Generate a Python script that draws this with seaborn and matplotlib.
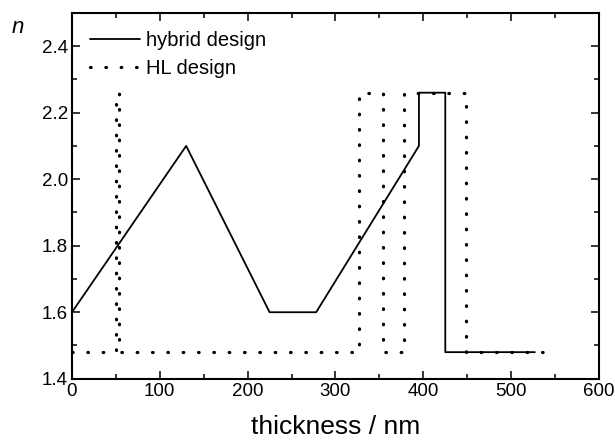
import pandas as pd
import seaborn as sns
import matplotlib.pyplot as plt
from matplotlib.ticker import MultipleLocator

# refractive index profiles, thickness in nm
hybrid_x = [0, 130, 225, 278, 395, 395, 425, 425, 527]
hybrid_n = [1.6, 2.1, 1.6, 1.6, 2.1, 2.26, 2.26, 1.48, 1.48]

hl_x = [0, 50, 50, 54, 54, 327, 327, 354, 354, 378, 378, 449, 449, 540]
hl_n = [1.48, 1.48, 2.26, 2.26, 1.48, 1.48, 2.26, 2.26, 1.48, 1.48, 2.26, 2.26, 1.48, 1.48]

sns.set_style("ticks")
plt.rcParams['font.family'] = ['Liberation Sans', 'DejaVu Sans']
plt.rcParams['text.color'] = 'black'
plt.rcParams['xtick.color'] = 'black'
plt.rcParams['ytick.color'] = 'black'
plt.rcParams['axes.labelcolor'] = 'black'

fig = plt.figure(figsize=(6.15, 4.43), dpi=100)
ax = fig.add_axes([0.117, 0.145, 0.857, 0.826])

df_h = pd.DataFrame({"x": hybrid_x, "n": hybrid_n})
df_l = pd.DataFrame({"x": hl_x, "n": hl_n})
sns.lineplot(data=df_h, x="x", y="n", sort=False, estimator=None, ax=ax,
             color="black", linewidth=1.3, label="hybrid design")
sns.lineplot(data=df_l, x="x", y="n", sort=False, estimator=None, ax=ax,
             color="black", linewidth=2.3, linestyle=(0, (0.2, 4.6)),
             dash_capstyle="round", label="HL design")

ax.set_xlim(0, 600)
ax.set_ylim(1.4, 2.5)
ax.xaxis.set_major_locator(MultipleLocator(100))
ax.xaxis.set_minor_locator(MultipleLocator(50))
ax.yaxis.set_minor_locator(MultipleLocator(0.1))
ax.set_yticks([1.4, 1.6, 1.8, 2.0, 2.2, 2.4])
ax.tick_params(which="both", direction="in", top=True, right=True,
               labeltop=False, labelright=False, width=1.1, labelsize=13.5, pad=3)
ax.tick_params(which="major", length=6)
ax.tick_params(which="minor", length=3.5)
for s in ax.spines.values():
    s.set_linewidth(1.5)
    s.set_color("black")

ax.set_xlabel("thickness / nm", fontsize=19, labelpad=11)
ax.set_ylabel("")
fig.text(0.019, 0.925, "n", fontsize=16, style="italic", va="baseline")

leg = ax.legend(loc="upper left", frameon=False, fontsize=14.5, handlelength=2.5,
                handletextpad=0.3, labelspacing=0.45, borderaxespad=0.5)

fig.savefig("out.png", dpi=100)
